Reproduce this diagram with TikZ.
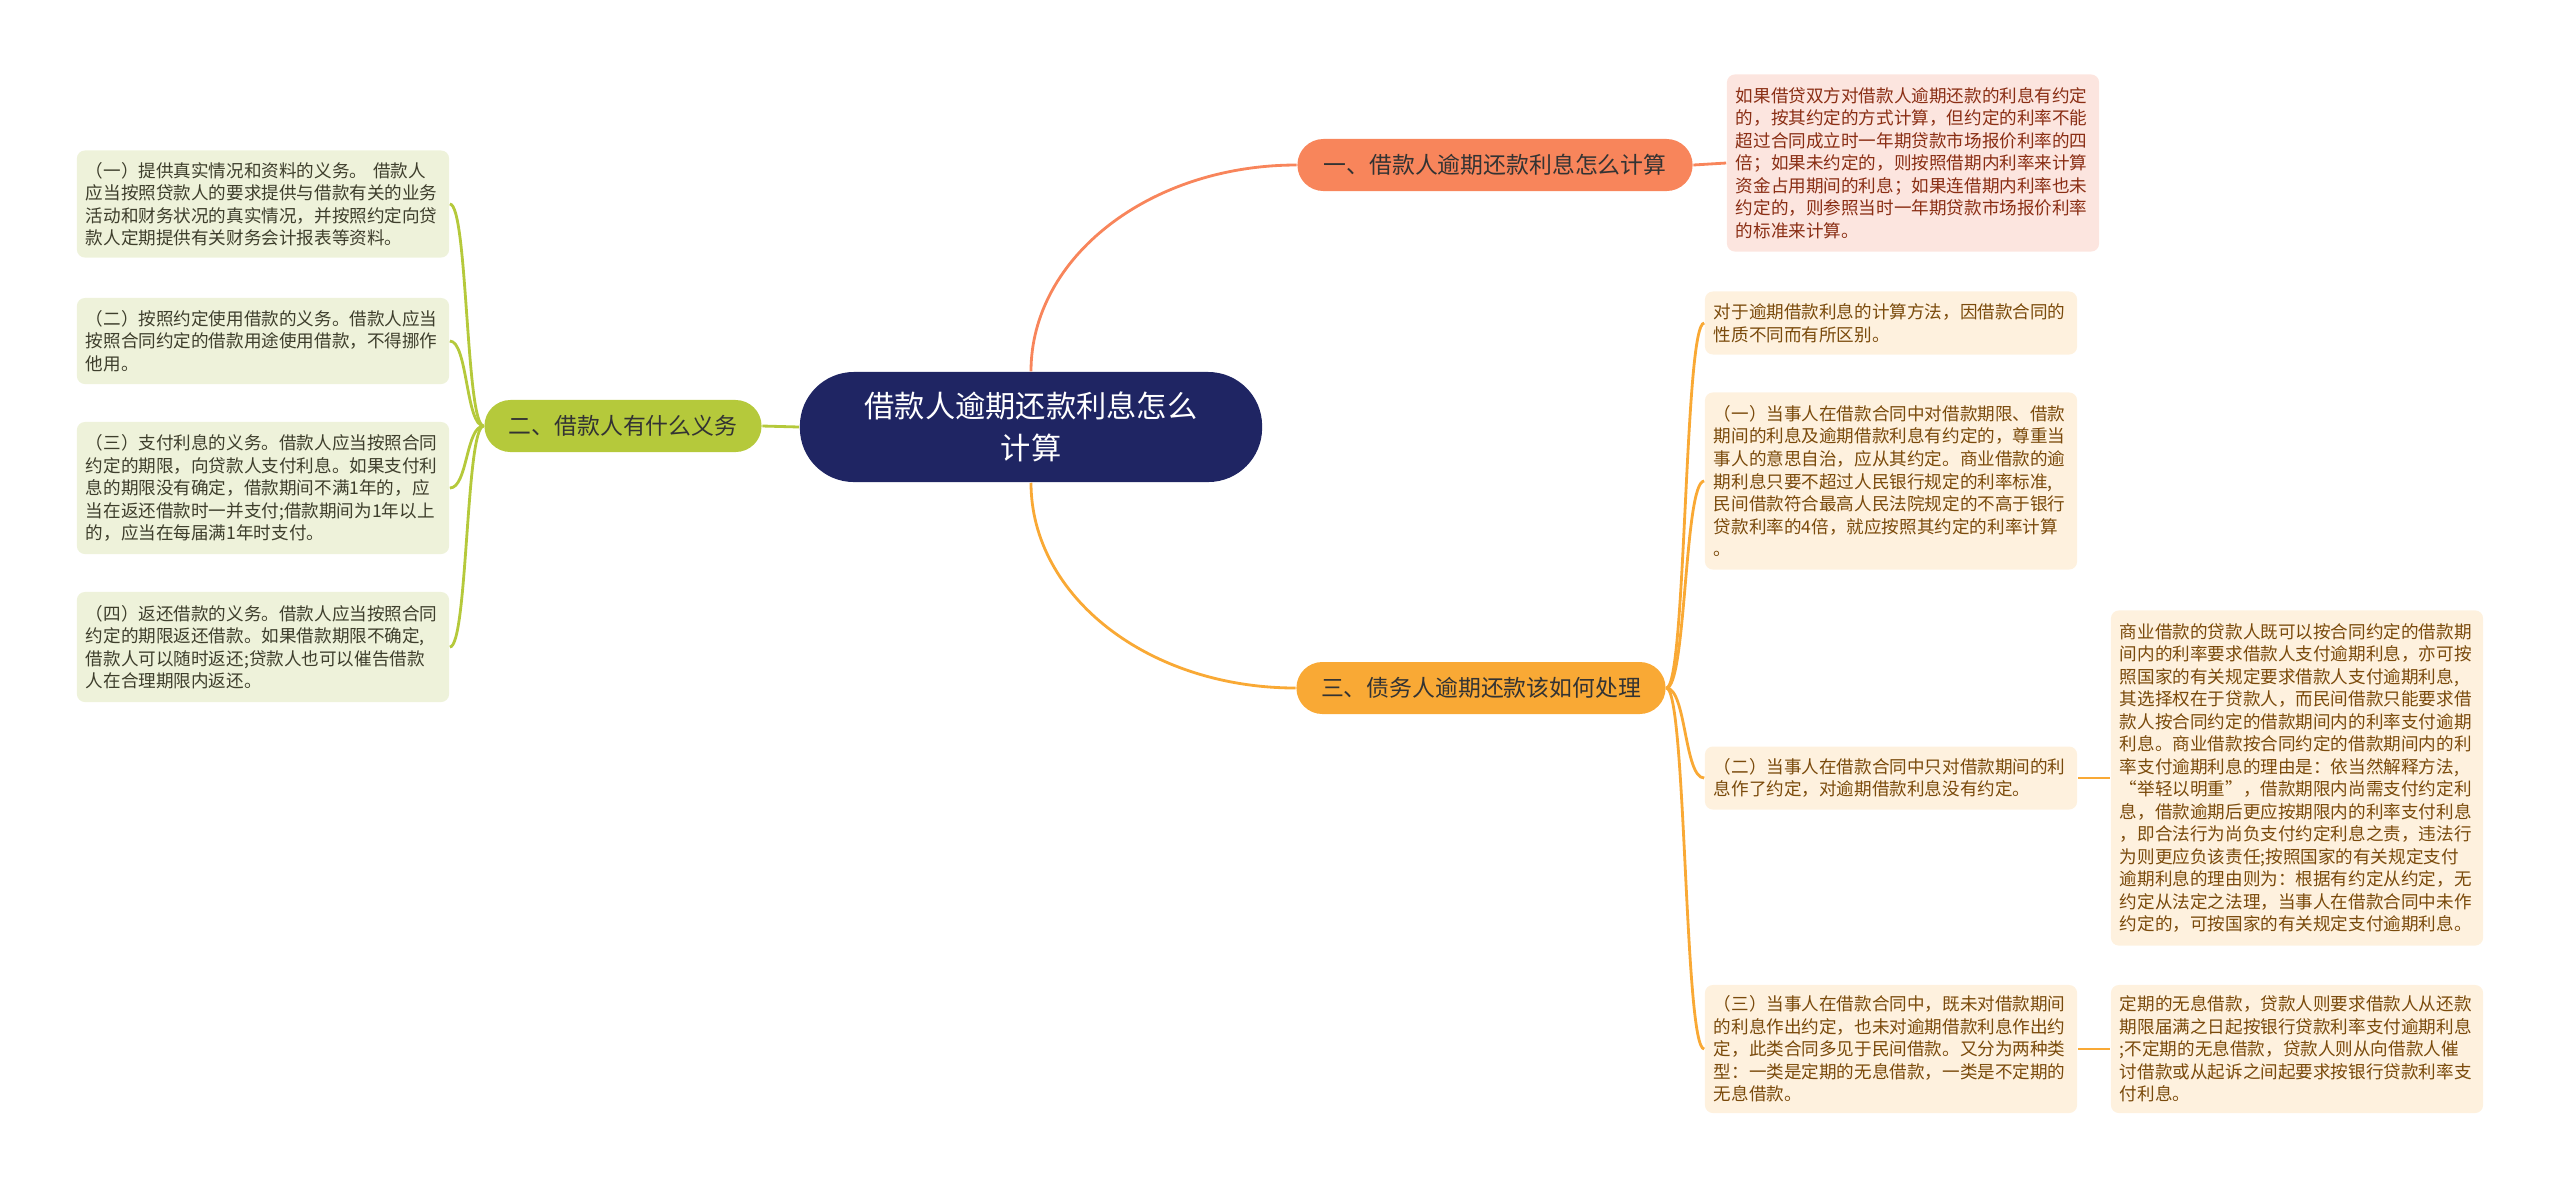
\documentclass[tikz,border=0pt]{standalone}
\usepackage{fontspec}
\setmainfont{Noto Sans CJK SC}
\usepackage{tikz}
\usepackage{xcolor}
\definecolor{Navy}{HTML}{1F2563}
\definecolor{Coral}{HTML}{F8855B}
\definecolor{Amber}{HTML}{F9A935}
\definecolor{Olive}{HTML}{B5C93B}
\definecolor{OliveLeaf}{HTML}{EEF2DA}
\definecolor{CoralLeaf}{HTML}{FCE5DF}
\definecolor{AmberLeaf}{HTML}{FEF1DE}
\definecolor{OliveText}{HTML}{3E3E2C}
\definecolor{CoralText}{HTML}{8A2E14}
\definecolor{AmberText}{HTML}{7A4A0B}

\begin{document}
\begin{tikzpicture}[x=0.01cm,y=-0.01cm,
    leaf/.style={rounded corners=0.08cm,inner xsep=0.09cm,inner ysep=0pt,
                 text width=3.54cm,align=left,font=\fontsize{5}{6.4}\selectfont},
    branch/.style={rounded corners=0.26cm,minimum height=0.52cm,
                   text=black!80,font=\fontsize{6.5}{8}\selectfont},
    link/.style={line width=0.8pt}]
    \useasboundingbox (0,0) rectangle (2560,1193);
    % centre and the three branches
    \node[fill=Navy,rounded corners=0.54cm,minimum width=4.62cm,minimum height=1.10cm,
          align=center,text=white,font=\fontsize{8.6}{11.8}\selectfont]
      (ctr) at (1031,427) {借款人逾期还款利息怎么\\计算};
    \node[branch,fill=Coral,minimum width=3.95cm] (one) at (1495,165) {一、借款人逾期还款利息怎么计算};
    \node[branch,fill=Olive,minimum width=2.77cm] (two) at (623,426) {二、借款人有什么义务};
    \node[branch,fill=Amber,minimum width=3.69cm] (thr) at (1481,688) {三、债务人逾期还款该如何处理};
    % left leaves
    \node[leaf,fill=OliveLeaf,text=OliveText,minimum height=1.07cm] (la) at (263,204) {%
      （一）提供真实情况和资料的义务。 借款人\\
      应当按照贷款人的要求提供与借款有关的业务\\
      活动和财务状况的真实情况，并按照约定向贷\\
      款人定期提供有关财务会计报表等资料。};
    \node[leaf,fill=OliveLeaf,text=OliveText,minimum height=0.86cm] (lb) at (263,341) {%
      （二）按照约定使用借款的义务。借款人应当\\
      按照合同约定的借款用途使用借款，不得挪作\\
      他用。};
    \node[leaf,fill=OliveLeaf,text=OliveText,minimum height=1.32cm] (lc) at (263,488) {%
      （三）支付利息的义务。借款人应当按照合同\\
      约定的期限，向贷款人支付利息。如果支付利\\
      息的期限没有确定，借款期间不满1年的，应\\
      当在返还借款时一并支付;借款期间为1年以上\\
      的，应当在每届满1年时支付。};
    \node[leaf,fill=OliveLeaf,text=OliveText,minimum height=1.10cm] (ld) at (263,647) {%
      （四）返还借款的义务。借款人应当按照合同\\
      约定的期限返还借款。如果借款期限不确定,\\
      借款人可以随时返还;贷款人也可以催告借款\\
      人在合理期限内返还。};
    % right leaves
    \node[leaf,fill=CoralLeaf,text=CoralText,minimum height=1.77cm] (oa) at (1913,163) {%
      如果借贷双方对借款人逾期还款的利息有约定\\
      的，按其约定的方式计算，但约定的利率不能\\
      超过合同成立时一年期贷款市场报价利率的四\\
      倍；如果未约定的，则按照借期内利率来计算\\
      资金占用期间的利息；如果连借期内利率也未\\
      约定的，则参照当时一年期贷款市场报价利率\\
      的标准来计算。};
    \node[leaf,fill=AmberLeaf,text=AmberText,minimum height=0.63cm] (ra) at (1891,323) {%
      对于逾期借款利息的计算方法，因借款合同的\\
      性质不同而有所区别。};
    \node[leaf,fill=AmberLeaf,text=AmberText,minimum height=1.77cm] (rb) at (1891,481) {%
      （一）当事人在借款合同中对借款期限、借款\\
      期间的利息及逾期借款利息有约定的，尊重当\\
      事人的意思自治，应从其约定。商业借款的逾\\
      期利息只要不超过人民银行规定的利率标准,\\
      民间借款符合最高人民法院规定的不高于银行\\
      贷款利率的4倍，就应按照其约定的利率计算\\
      。};
    \node[leaf,fill=AmberLeaf,text=AmberText,minimum height=0.63cm] (rc) at (1891,778) {%
      （二）当事人在借款合同中只对借款期间的利\\
      息作了约定，对逾期借款利息没有约定。};
    \node[leaf,fill=AmberLeaf,text=AmberText,minimum height=1.28cm] (rd) at (1891,1049) {%
      （三）当事人在借款合同中，既未对借款期间\\
      的利息作出约定，也未对逾期借款利息作出约\\
      定，此类合同多见于民间借款。又分为两种类\\
      型：一类是定期的无息借款，一类是不定期的\\
      无息借款。};
    \node[leaf,fill=AmberLeaf,text=AmberText,minimum height=3.35cm] (rcx) at (2297,778) {%
      商业借款的贷款人既可以按合同约定的借款期\\
      间内的利率要求借款人支付逾期利息，亦可按\\
      照国家的有关规定要求借款人支付逾期利息,\\
      其选择权在于贷款人，而民间借款只能要求借\\
      款人按合同约定的借款期间内的利率支付逾期\\
      利息。商业借款按合同约定的借款期间内的利\\
      率支付逾期利息的理由是：依当然解释方法,\\
      “举轻以明重”，借款期限内尚需支付约定利\\
      息，借款逾期后更应按期限内的利率支付利息\\
      ，即合法行为尚负支付约定利息之责，违法行\\
      为则更应负该责任;按照国家的有关规定支付\\
      逾期利息的理由则为：根据有约定从约定，无\\
      约定从法定之法理，当事人在借款合同中未作\\
      约定的，可按国家的有关规定支付逾期利息。};
    \node[leaf,fill=AmberLeaf,text=AmberText,minimum height=1.28cm] (rdx) at (2297,1049) {%
      定期的无息借款，贷款人则要求借款人从还款\\
      期限届满之日起按银行贷款利率支付逾期利息\\
      ;不定期的无息借款，贷款人则从向借款人催\\
      讨借款或从起诉之间起要求按银行贷款利率支\\
      付利息。};
    % connectors
    \draw[link,Coral] (ctr.north) .. controls +(0,-114) and +(-147,0) .. (one.west);
    \draw[link,Amber] (ctr.south) .. controls +(0,114) and +(-147,0) .. (thr.west);
    \draw[link,Olive] (ctr.west) -- (two.east);
    \foreach \n in {la,lb,lc,ld}
      \draw[link,Olive] (two.west) .. controls +(-18,0) and +(18,0) .. (\n.east);
    \foreach \n in {ra,rb,rc,rd}
      \draw[link,Amber] (thr.east) .. controls +(20,0) and +(-20,0) .. (\n.west);
    \draw[link,Coral] (one.east) -- (oa.west);
    \draw[link,Amber] (rc.east) -- (rcx.west);
    \draw[link,Amber] (rd.east) -- (rdx.west);
\end{tikzpicture}
\end{document}
